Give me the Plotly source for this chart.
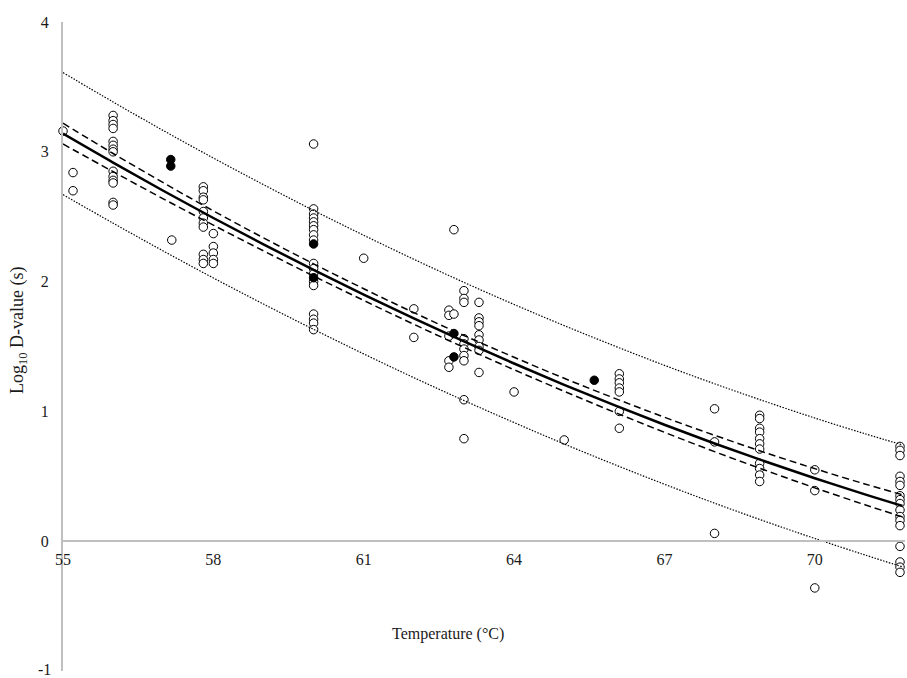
import plotly.graph_objects as go

# ---- Data ----
open_T = ([55.0] + [55.2] * 2 + [56.0] * 14 + [57.17] + [57.8] * 11 + [58.0] * 5 +
          [60.0] * 18 + [61.0] + [62.0] * 2 + [62.7] * 5 + [62.8] * 2 + [63.0] * 10 +
          [63.3] * 9 + [64.0] + [65.0] + [66.1] * 7 + [68.0] * 3 + [68.9] * 11 +
          [70.0] * 3 + [71.7] * 17)
open_y = ([3.16] +
          [2.84, 2.70] +
          [3.28, 3.24, 3.21, 3.18, 3.08, 3.05, 3.02, 3.00, 2.85, 2.81, 2.78, 2.76, 2.61, 2.59] +
          [2.32] +
          [2.73, 2.70, 2.65, 2.63, 2.54, 2.49, 2.45, 2.42, 2.21, 2.17, 2.14] +
          [2.37, 2.27, 2.22, 2.17, 2.14] +
          [3.06, 2.56, 2.52, 2.49, 2.46, 2.43, 2.40, 2.36, 2.32, 2.14, 2.10, 2.06, 2.00, 1.97,
           1.75, 1.71, 1.68, 1.63] +
          [2.18] +
          [1.79, 1.57] +
          [1.78, 1.74, 1.58, 1.39, 1.34] +
          [2.40, 1.75] +
          [1.93, 1.87, 1.84, 1.56, 1.52, 1.48, 1.43, 1.39, 1.09, 0.79] +
          [1.84, 1.72, 1.69, 1.66, 1.59, 1.55, 1.50, 1.47, 1.30] +
          [1.15] +
          [0.78] +
          [1.29, 1.25, 1.22, 1.18, 1.15, 1.00, 0.87] +
          [1.02, 0.765, 0.06] +
          [0.97, 0.945, 0.87, 0.84, 0.79, 0.75, 0.71, 0.60, 0.56, 0.51, 0.46] +
          [0.55, 0.39, -0.36] +
          [0.73, 0.70, 0.66, 0.50, 0.46, 0.43, 0.35, 0.32, 0.29, 0.24, 0.19, 0.16, 0.12,
           -0.04, -0.16, -0.20, -0.24])

filled_T = [57.15, 57.15, 60.0, 60.0, 62.8, 62.8, 65.6]
filled_y = [2.94, 2.89, 2.29, 2.03, 1.60, 1.42, 1.24]

curve_T = [55, 56, 57, 58, 59, 60, 61, 62, 63, 64, 65, 66, 67, 68, 69, 70, 71, 71.75]
fit_y = [3.140, 2.917, 2.700, 2.490, 2.287, 2.090, 1.900, 1.716, 1.539, 1.369, 1.205,
         1.048, 0.897, 0.753, 0.616, 0.485, 0.361, 0.272]
ci_upper = [3.220, 2.987, 2.762, 2.545, 2.337, 2.137, 1.945, 1.761, 1.585, 1.417, 1.255,
            1.102, 0.955, 0.816, 0.684, 0.559, 0.441, 0.357]
ci_lower = [3.060, 2.847, 2.638, 2.435, 2.237, 2.043, 1.855, 1.671, 1.493, 1.321, 1.155,
            0.994, 0.839, 0.690, 0.548, 0.411, 0.281, 0.187]
pi_upper = [3.610, 3.384, 3.164, 2.952, 2.747, 2.548, 2.357, 2.172, 1.994, 1.824, 1.661,
            1.505, 1.355, 1.213, 1.078, 0.949, 0.828, 0.742]
pi_lower = [2.670, 2.450, 2.236, 2.028, 1.827, 1.632, 1.443, 1.260, 1.084, 0.914, 0.749,
            0.591, 0.439, 0.293, 0.154, 0.021, -0.106, -0.198]

x_ticks = [55, 58, 61, 64, 67, 70]
y_ticks = [0, 1, 2, 3, 4]
y_bottom_tick = -1

FONT = "Liberation Serif"
TXT = "#1a1a1a"

fig = go.Figure()

fig.add_trace(go.Scatter(
    x=open_T, y=open_y, mode="markers", cliponaxis=False,
    marker=dict(symbol="circle", size=8.5, color="white",
                line=dict(color="black", width=1)),
    showlegend=False, hoverinfo="x+y"))
fig.add_trace(go.Scatter(
    x=filled_T, y=filled_y, mode="markers", cliponaxis=False,
    marker=dict(symbol="circle", size=8.5, color="black",
                line=dict(color="black", width=1)),
    showlegend=False))

for ys in (pi_upper, pi_lower):
    fig.add_trace(go.Scatter(x=curve_T, y=ys, mode="lines", line_shape="spline",
                             line=dict(color="black", width=1.2, dash="1.5px,1.5px"),
                             showlegend=False, hoverinfo="skip"))
for ys in (ci_upper, ci_lower):
    fig.add_trace(go.Scatter(x=curve_T, y=ys, mode="lines", line_shape="spline",
                             line=dict(color="black", width=1.5, dash="7px,4px"),
                             showlegend=False, hoverinfo="skip"))
fig.add_trace(go.Scatter(x=curve_T, y=fit_y, mode="lines", line_shape="spline",
                         line=dict(color="black", width=2.5),
                         showlegend=False, hoverinfo="skip"))

PLOT_TOP, PLOT_BOTTOM, PLOT_LEFT, PLOT_RIGHT = 22, 671, 63, 905
PH = PLOT_BOTTOM - PLOT_TOP
PW = PLOT_RIGHT - PLOT_LEFT

fig.update_layout(
    width=907, height=678,
    margin=dict(l=PLOT_LEFT, r=907 - PLOT_RIGHT, t=PLOT_TOP, b=678 - PLOT_BOTTOM,
                autoexpand=False),
    paper_bgcolor="white", plot_bgcolor="white",
    font=dict(family=FONT, size=16, color=TXT),
    xaxis=dict(range=[55, 71.8], tickvals=x_ticks, ticktext=[str(v) for v in x_ticks],
               showgrid=False, zeroline=False, showline=True, linecolor="#bfbfbf",
               linewidth=2, ticks="outside", ticklen=4, tickcolor="rgba(0,0,0,0)",
               anchor="free", position=0.2,
               tickfont=dict(family=FONT, size=16, color=TXT)),
    yaxis=dict(range=[-1, 4], tickvals=y_ticks, ticktext=[str(v) for v in y_ticks],
               showgrid=False, zeroline=False, showline=True, linecolor="#bfbfbf",
               linewidth=2, ticks="", ticklabelstandoff=9,
               tickfont=dict(family=FONT, size=16, color=TXT)),
    annotations=[
        # bottom y tick label, nudged up so it stays inside the frame
        dict(text=str(y_bottom_tick), xref="paper", yref="y", x=0, y=y_bottom_tick,
             xanchor="right", yanchor="middle", xshift=-10, yshift=2,
             showarrow=False, font=dict(family=FONT, size=16, color=TXT)),
        dict(text="Temperature (°C)", xref="paper", yref="paper",
             x=(448 - PLOT_LEFT) / PW, y=(PLOT_BOTTOM - 634) / PH,
             xanchor="center", yanchor="middle",
             showarrow=False, font=dict(family=FONT, size=16, color=TXT)),
        dict(text="Log<sub>10</sub> D-value (s)", xref="paper", yref="paper",
             x=(18 - PLOT_LEFT) / PW, y=(PLOT_BOTTOM - 330) / PH, textangle=-90,
             xanchor="center", yanchor="middle", showarrow=False,
             font=dict(family=FONT, size=18, color=TXT)),
    ],
)

# Remove the default page margin and scrollbars so the 907x678 figure fills the window.
fig.write_html(
    "out.html",
    config={"displayModeBar": False},
    post_script=("document.body.style.margin='0';"
                 "document.documentElement.style.overflow='hidden';"
                 "document.body.style.overflow='hidden';"),
)
